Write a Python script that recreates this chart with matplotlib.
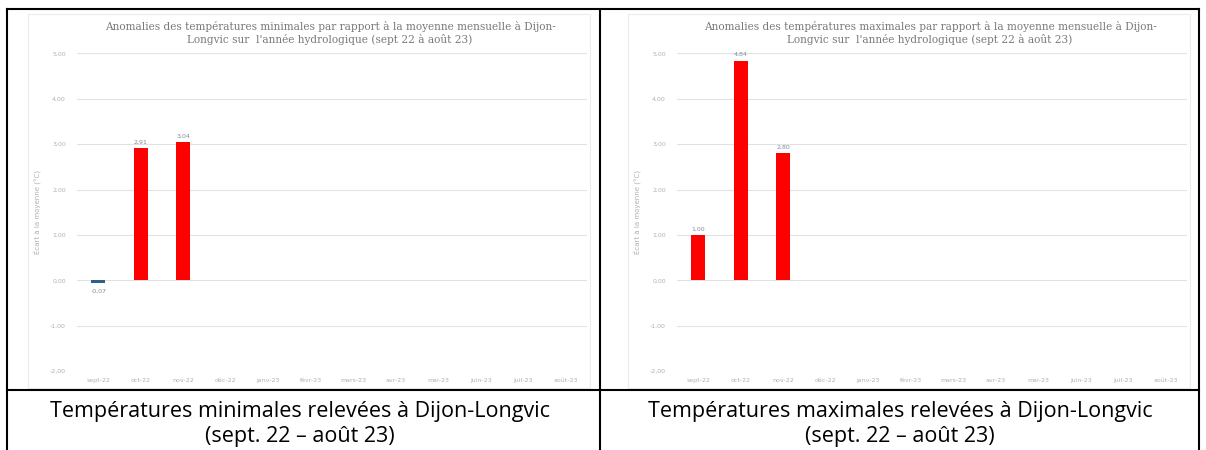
import matplotlib.pyplot as plt
from matplotlib.lines import Line2D
from matplotlib.patches import Rectangle

months = ["sept-22", "oct-22", "nov-22", "déc-22", "janv-23", "févr-23",
          "mars-23", "avr-23", "mai-23", "juin-23", "juil-23", "août-23"]
tmin_anom = [-0.07, 2.91, 3.04]
tmax_anom = [1.00, 4.84, 2.80]
yticks = [-2, -1, 0, 1, 2, 3, 4, 5]

titles = [
    "Anomalies des températures minimales par rapport à la moyenne mensuelle à Dijon-\nLongvic sur  l'année hydrologique (sept 22 à août 23)",
    "Anomalies des températures maximales par rapport à la moyenne mensuelle à Dijon-\nLongvic sur  l'année hydrologique (sept 22 à août 23)",
]
captions = [
    "Températures minimales relevées à Dijon-Longvic\n(sept. 22 – août 23)",
    "Températures maximales relevées à Dijon-Longvic\n(sept. 22 – août 23)",
]
ylabel = "Écart à la moyenne (°C)"

W, H = 1206, 450
fig = plt.figure(figsize=(W / 100, H / 100), dpi=100)


def fx(px):
    return px / W


def fy(py):
    return 1 - py / H


def fmt(v):
    return f"{v:.2f}".replace(".", ",")


for k, (vals, title, cap) in enumerate(zip([tmin_anom, tmax_anom], titles, captions)):
    off = 600 * k
    # faint chart area frame
    fig.add_artist(Rectangle((fx(28 + off), fy(388)), fx(562), 374 / H,
                             transform=fig.transFigure, fill=False,
                             edgecolor="#ececec", lw=0.8))
    ax = fig.add_axes([fx(77 + off), fy(371), fx(510), (371 - 53.5) / H])
    colors = ["#FF0000" if v >= 0 else "#2F5F8A" for v in vals]
    x = list(range(len(vals)))
    ax.bar(x, vals, width=0.33, color=colors, zorder=3)
    for xi, v in zip(x, vals):
        if v >= 0:
            ax.text(xi, v + 0.08, fmt(v), ha="center", va="bottom",
                    fontsize=4.5, color="#7f8c99")
        else:
            ax.text(xi, v - 0.12, fmt(v), ha="center", va="top",
                    fontsize=4.5, color="#7f8c99")
    ax.set_xlim(-0.5, len(months) - 0.5)
    ax.set_ylim(-2, 5)
    ax.set_yticks(yticks)
    ax.set_yticklabels([fmt(t) for t in yticks], fontsize=4.5, color="#b0b0b0")
    ax.set_xticks(range(len(months)))
    ax.set_xticklabels(months, fontsize=4.5, color="#b0b0b0")
    ax.tick_params(length=0, pad=8)
    ax.tick_params(axis="x", pad=5)
    ax.grid(axis="y", color="#e2e2e2", lw=0.8, zorder=0)
    for s in ax.spines.values():
        s.set_visible(False)
    ax.set_ylabel(ylabel, fontsize=5, color="#b0b0b0", labelpad=6)
    fig.text(fx(330 + off), fy(33), title, ha="center", va="center",
             fontsize=7.6, family="DejaVu Serif", color="#7a7a7a",
             linespacing=1.2)
    fig.text(fx(300 + off), fy(424), cap, ha="center", va="center",
             fontsize=15.5, family="Open Sans", color="black", linespacing=1.27)

# table borders
lines = [
    ((7, 1199), (9, 9)),
    ((7, 7), (9, 450)),
    ((1199, 1199), (9, 450)),
    ((600, 600), (9, 450)),
    ((7, 1199), (390, 390)),
]
for xs, ys in lines:
    fig.add_artist(Line2D([fx(xs[0]), fx(xs[1])], [fy(ys[0]), fy(ys[1])],
                          transform=fig.transFigure, color="black", lw=1.5))

fig.savefig("out.png", dpi=100)
